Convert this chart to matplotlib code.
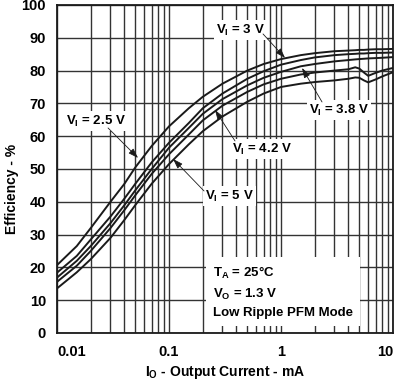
import matplotlib
matplotlib.use("Agg")
import matplotlib.pyplot as plt
from matplotlib.ticker import FixedLocator, NullFormatter

plt.rcParams["font.family"] = ["Liberation Sans", "DejaVu Sans"]
plt.rcParams["font.weight"] = "bold"
plt.rcParams["mathtext.fontset"] = "custom"
plt.rcParams["mathtext.rm"] = "Liberation Sans:bold"
plt.rcParams["mathtext.it"] = "Liberation Sans:bold"
plt.rcParams["mathtext.bf"] = "Liberation Sans:bold"
plt.rcParams["mathtext.default"] = "rm"

# output current (mA)
current = [0.01, 0.015, 0.02, 0.03, 0.04, 0.05, 0.07, 0.1, 0.15, 0.2, 0.3, 0.5,
           0.7, 1, 1.5, 2, 3, 4, 4.6, 5, 5.5, 6, 7, 8, 10]

# efficiency (%) for each input voltage
eff_2v5 = [20.7, 26.5, 32, 40, 45.5, 50.5, 57, 63, 68.5, 72, 76, 80,
           82, 83.5, 84.7, 85.3, 85.9, 86.1, 86.2, 86.3, 86.3, 86.4, 86.5, 86.5, 86.6]
eff_3v = [18.4, 23.5, 28.5, 35.5, 41, 45.5, 52, 58, 64, 68.5, 73, 77.5,
          79.8, 81.8, 83.2, 84, 84.7, 85, 85.1, 85.2, 85.2, 85.3, 85.4, 85.4, 85.5]
eff_3v8 = [16.9, 22, 26.5, 33.5, 39, 43.5, 50, 56.5, 62.5, 66.8, 71.3, 75.5,
           77.8, 79.6, 81.3, 82, 82.8, 83.2, 83.4, 83.5, 83.6, 83.7, 83.8, 83.9, 84.1]
eff_4v2 = [15.6, 20.5, 25, 32, 37.5, 42, 48.5, 54.5, 60.5, 64.8, 69.3, 73.5,
           75.8, 77.5, 78.8, 79.4, 80, 80.4, 81, 80.6, 79.4, 78.4, 79.3, 80, 80.8]
eff_5v = [13.6, 18.5, 22.5, 29, 34.5, 39, 45.5, 51.5, 57.5, 61.5, 66, 70.5,
          73, 75, 76, 76.5, 77, 77.5, 77.9, 77.8, 77, 76.4, 77.3, 78.2, 79.5]

x_ticks = [0.01, 0.1, 1, 10]
x_tick_labels = ["0.01", "0.1", "1", "10"]
y_ticks = list(range(0, 101, 10))

fig = plt.figure(figsize=(3.99, 3.81), dpi=100)
ax = fig.add_axes([0.143, 0.126, 0.842, 0.861])

for eff in [eff_2v5, eff_3v, eff_3v8, eff_4v2, eff_5v]:
    ax.plot(current, eff, color="#1a1a1a", lw=1.4, zorder=3)

ax.set_xscale("log")
ax.set_xlim(0.01, 10)
ax.set_ylim(0, 100)

minor = [m * d for d in [0.01, 0.1, 1] for m in range(2, 10)]
ax.xaxis.set_major_locator(FixedLocator(x_ticks))
ax.xaxis.set_minor_locator(FixedLocator(minor))
ax.xaxis.set_minor_formatter(NullFormatter())
ax.set_xticklabels(x_tick_labels)
ax.set_yticks(y_ticks)
ax.tick_params(which="both", length=0, labelsize=10.5)
ax.tick_params(axis="x", pad=9)
ax.tick_params(axis="y", pad=8)
xt = ax.get_xticklabels()
xt[0].set_ha("left")
xt[-1].set_ha("right")
for lbl in ax.get_xticklabels() + ax.get_yticklabels():
    lbl.set_fontweight("bold")

ax.grid(True, which="both", axis="x", color="#333333", lw=1.0, zorder=1)
ax.grid(True, which="major", axis="y", color="#333333", lw=1.0, zorder=1)
for s in ax.spines.values():
    s.set_linewidth(1.3)
    s.set_color("#1a1a1a")

ax.set_xlabel(r"I$_{O}$ - Output Current - mA", fontsize=10, fontweight="bold")
ax.set_ylabel("Efficiency - %", fontsize=10, fontweight="bold")
ax.xaxis.set_label_coords(0.5, -0.095)
ax.yaxis.set_label_coords(-0.112, 0.44)


def px(x, y):
    # pixel position in the reference -> data coords
    return 10 ** ((x - 57) / 112.0 - 2), (333 - y) / 3.28


box = dict(facecolor="white", edgecolor="none", pad=1.5)
labels = [
    (r"V$_{I}$ = 3 V", (240, 30), (263, 34), (285, 58)),
    (r"V$_{I}$ = 3.8 V", (339, 110), (322, 102), (302, 68)),
    (r"V$_{I}$ = 2.5 V", (96, 121), (108, 128), (138, 158)),
    (r"V$_{I}$ = 4.2 V", (262, 149), (235, 141), (215, 110)),
    (r"V$_{I}$ = 5 V", (229, 196), (204, 191), (173, 159)),
]
for txt, pos, start, tip in labels:
    ax.text(*px(*pos), txt, ha="center", va="center", fontsize=9.5,
            fontweight="bold", bbox=box, zorder=5)
    ax.annotate("", xy=px(*tip), xytext=px(*start),
                arrowprops=dict(arrowstyle="-|>,head_length=0.6,head_width=0.2",
                                color="#1a1a1a", lw=0.6, shrinkA=0, shrinkB=0),
                zorder=6)

cond = "T$_{A}$ = 25°C\nV$_{O}$ = 1.3 V\nLow Ripple PFM Mode"
ax.text(*px(213, 292), cond, ha="left", va="center", fontsize=9.5,
        fontweight="bold", linespacing=1.5,
        bbox=dict(facecolor="white", edgecolor="none", pad=5), zorder=5)

fig.savefig("out.png", dpi=100)
